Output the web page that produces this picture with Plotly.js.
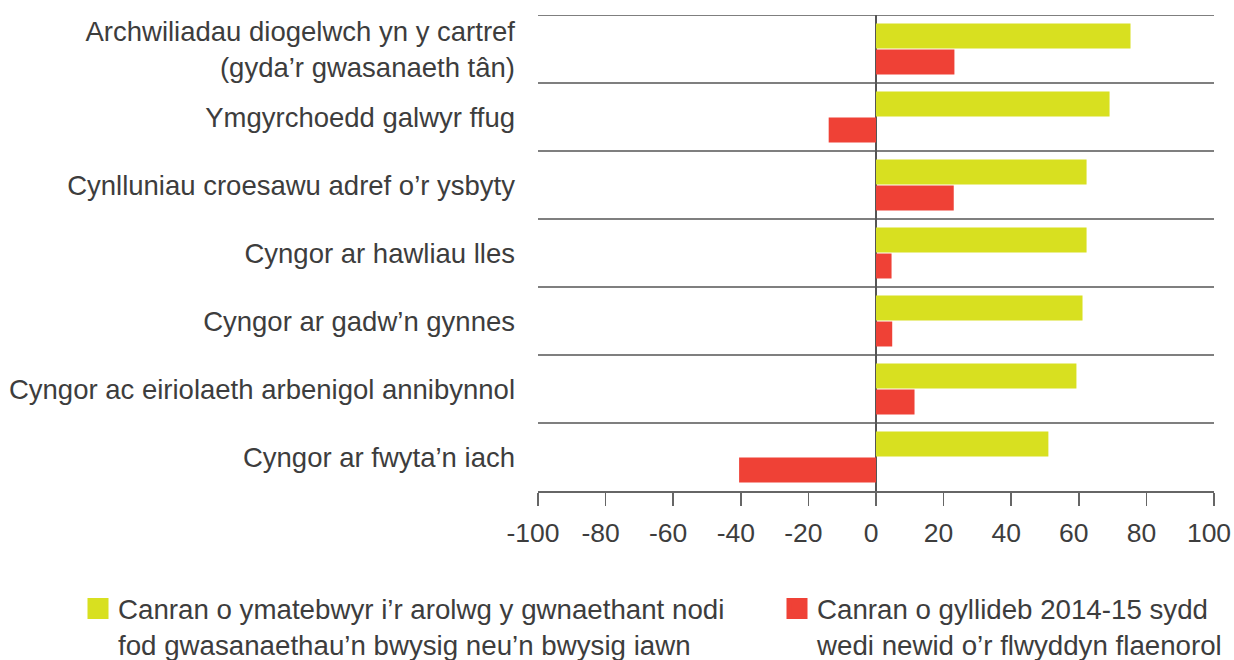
<!DOCTYPE html>
<html>
<head>
<meta charset="utf-8">
<script src="https://cdn.plot.ly/plotly-3.0.1.min.js"></script>
<style>html,body{margin:0;padding:0;background:#fff;}#chart{width:1234px;height:660px;}</style>
</head>
<body>
<div id="chart"></div>
<script>
const categories = [
  "Archwiliadau diogelwch yn y cartref<br>(gyda’r gwasanaeth tân)",
  "Ymgyrchoedd galwyr ffug",
  "Cynlluniau croesawu adref o’r ysbyty",
  "Cyngor ar hawliau lles",
  "Cyngor ar gadw’n gynnes",
  "Cyngor ac eiriolaeth arbenigol annibynnol",
  "Cyngor ar fwyta’n iach"
];
const importantPct = [75.3, 69.1, 62.3, 62.3, 61.1, 59.3, 51.0];
const budgetChangePct = [23.2, -14.0, 23.0, 4.6, 4.8, 11.4, -40.5];
const seriesNames = [
  "Canran o ymatebwyr i’r arolwg y gwnaethant nodi<br>fod gwasanaethau’n bwysig neu’n bwysig iawn",
  "Canran o gyllideb 2014-15 sydd<br>wedi newid o’r flwyddyn flaenorol"
];
const xTickVals = [-100, -80, -60, -40, -20, 0, 20, 40, 60, 80, 100];

const GREEN = "#d8e020";
const RED = "#ef4136";
const TEXT = "#3d3d3d";
const FONT = "Liberation Sans, Arial, sans-serif";

const traces = [
  {type: "bar", orientation: "h", y: categories, x: importantPct, name: seriesNames[0],
   marker: {color: GREEN}, showlegend: false, hoverinfo: "x+y"},
  {type: "bar", orientation: "h", y: categories, x: budgetChangePct, name: seriesNames[1],
   marker: {color: RED}, showlegend: false, hoverinfo: "x+y"},
  {type: "scatter", mode: "markers", x: [null], y: [null], name: seriesNames[0], legend: "legend",
   marker: {symbol: "square", size: 16, color: GREEN, line: {color: GREEN, width: 5}}, showlegend: true},
  {type: "scatter", mode: "markers", x: [null], y: [null], name: seriesNames[1], legend: "legend2",
   marker: {symbol: "square", size: 16, color: RED, line: {color: RED, width: 5}}, showlegend: true}
];

// separator lines between categories (and the top edge)
const shapes = categories.map((c, i) => ({
  type: "line", xref: "paper", x0: 0, x1: 1, yref: "y", y0: i - 0.5, y1: i - 0.5,
  line: {color: "#555", width: 1.7}, layer: "below"
}));

const legendBase = {
  orientation: "v", xref: "container", yref: "container",
  xanchor: "left", y: 1 - 584 / 660, yanchor: "top",
  font: {family: FONT, size: 27.7, color: TEXT},
  valign: "top", itemwidth: 30, bgcolor: "rgba(0,0,0,0)"
};

const layout = {
  width: 1234, height: 660,
  margin: {l: 538, r: 20, t: 15, b: 169, pad: 0, autoexpand: false},
  paper_bgcolor: "#fff", plot_bgcolor: "#fff",
  font: {family: FONT, size: 27, color: TEXT},
  barmode: "group", bargap: 0.235, bargroupgap: 0.04,
  xaxis: {
    range: [-100, 100], tickvals: xTickVals, ticktext: xTickVals.map(String),
    showgrid: false, zeroline: true, zerolinecolor: "#555", zerolinewidth: 1.5,
    showline: true, linecolor: "#666", linewidth: 1.5,
    ticks: "outside", ticklen: 13, tickwidth: 1.5, tickcolor: "#666",
    ticklabelstandoff: 5, ticklabelshift: -5, ticklabeloverflow: "allow",
    tickfont: {family: FONT, size: 26.5, color: TEXT}, fixedrange: true
  },
  yaxis: {
    type: "category", range: [categories.length - 0.5, -0.5],
    showgrid: false, zeroline: false, showline: false, ticks: "",
    ticklabelstandoff: 22,
    tickfont: {family: FONT, size: 27.5, color: TEXT}, fixedrange: true
  },
  shapes: shapes,
  showlegend: true,
  legend: Object.assign({}, legendBase, {x: 78 / 1234}),
  legend2: Object.assign({}, legendBase, {x: 777 / 1234})
};

Plotly.newPlot("chart", traces, layout, {displayModeBar: false, staticPlot: true});
</script>
</body>
</html>
